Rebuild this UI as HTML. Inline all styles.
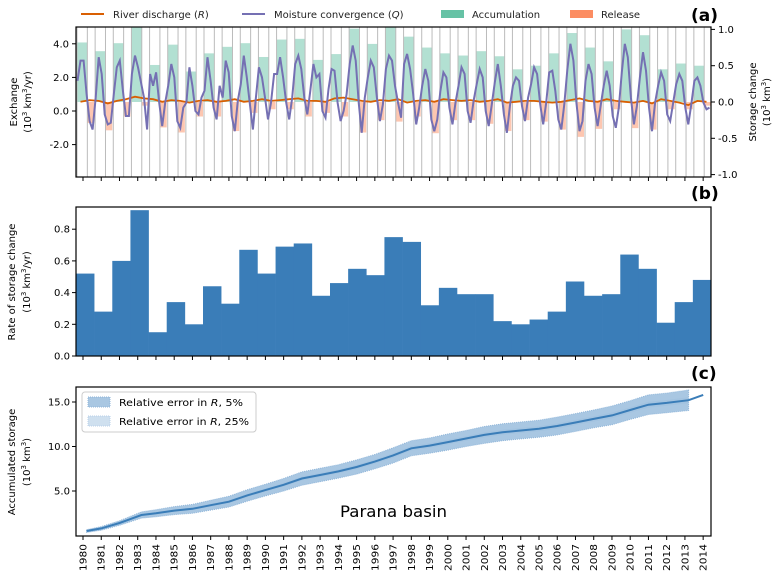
<!DOCTYPE html>
<html><head><meta charset="utf-8"><style>
html,body{margin:0;padding:0;background:#fff;}
svg{display:block;font-family:"DejaVu Sans","Liberation Sans",sans-serif;}
</style></head><body>
<svg id="chart" width="781" height="582" viewBox="0 0 781 582" xmlns="http://www.w3.org/2000/svg">
<g font-size="10" fill="#222">
 <line x1="81" y1="14" x2="104" y2="14" stroke="#d95f02" stroke-width="2"/>
 <text x="113" y="18">River discharge (<tspan font-style="italic">R</tspan>)</text>
 <line x1="242" y1="14" x2="265" y2="14" stroke="#7570b3" stroke-width="2"/>
 <text x="274" y="18">Moisture convergence (<tspan font-style="italic">Q</tspan>)</text>
 <rect x="441" y="10" width="23" height="8" fill="#66c2a5"/>
 <text x="472" y="18">Accumulation</text>
 <rect x="570" y="10" width="23" height="8" fill="#fc8d62"/>
 <text x="601" y="18">Release</text>
</g>
<text x="691" y="21" font-size="17" font-weight="bold">(a)</text>
<text x="691" y="199" font-size="17" font-weight="bold">(b)</text>
<text x="691" y="379" font-size="17" font-weight="bold">(c)</text>
<g id="pa"></g><g id="pb"></g><g id="pc"></g>
</svg>
<script>
const years=[];for(let y=1980;y<=2014;y++)years.push(y);
const accumulation=[0.82,0.70,0.81,1.05,0.51,0.79,0.42,0.67,0.76,0.81,0.62,0.86,0.87,0.58,0.66,1.01,0.80,1.05,0.90,0.75,0.67,0.64,0.70,0.63,0.45,0.50,0.67,0.95,0.75,0.56,1.00,0.92,0.45,0.53,0.50];
const release=[-0.29,-0.39,-0.20,-0.05,-0.35,-0.42,-0.20,-0.20,-0.40,-0.15,-0.10,-0.10,-0.20,-0.15,-0.20,-0.42,-0.25,-0.27,-0.20,-0.43,-0.25,-0.25,-0.30,-0.40,-0.25,-0.27,-0.38,-0.48,-0.37,-0.10,-0.36,-0.38,-0.10,-0.10,-0.05];
const moisture=[[1.8,3.0,3.0,1.0,-0.6,-1.1],[0.8,3.2,2.2,-0.2,-0.8,-0.7],[1.0,2.6,3.0,1.2,-0.3,-0.3],[2.2,3.3,2.6,1.7,0.8,-1.1],[2.2,1.5,2.3,0.5,-0.9,0.5],[1.5,2.8,2.0,-0.6,-1.0,0.2],[0.5,2.6,1.5,0.0,-0.2,0.8],[1.2,3.2,1.8,0.2,-0.5,1.5],[0.8,3.0,2.3,-0.3,-1.2,0.6],[1.6,3.3,2.0,0.4,-1.1,0.8],[2.6,2.0,0.8,-0.5,0.5,2.2],[2.2,3.2,2.0,0.5,-0.5,0.8],[2.8,3.3,2.5,0.8,-0.2,1.2],[2.8,2.0,2.2,0.0,-0.4,1.3],[2.5,2.4,0.5,-0.6,0.0,1.0],[2.8,3.9,3.0,0.5,-1.3,0.8],[2.0,3.0,2.6,0.8,-0.6,0.4],[2.5,3.3,3.0,1.5,0.5,-0.4],[2.8,3.4,2.5,1.0,-0.8,0.2],[1.5,2.5,1.8,-0.5,-1.2,-0.5],[1.2,2.3,2.0,0.2,-0.8,0.5],[1.5,2.6,2.2,0.0,-0.7,0.6],[1.6,2.5,2.0,0.0,-0.9,0.4],[1.7,2.8,1.5,-0.2,-1.3,0.3],[1.5,2.0,1.8,0.3,-0.6,0.8],[1.6,2.6,2.2,0.4,-0.8,0.5],[2.3,2.4,1.2,-0.5,-1.1,0.4],[2.5,4.0,3.0,0.5,-1.2,-0.6],[1.8,2.8,2.2,0.2,-0.9,0.3],[1.5,2.4,1.5,-0.3,-1.0,0.2],[2.3,4.0,3.2,0.8,-0.8,0.3],[2.0,3.5,2.4,0.2,-1.2,0.5],[1.5,2.3,1.8,-0.2,-0.6,0.5],[1.6,2.2,1.8,0.2,-0.8,0.4],[1.8,2.0,1.5,0.5,0.1,0.2]];
const discharge=[0.55,0.65,0.6,0.45,0.6,0.7,0.85,0.75,0.7,0.55,0.65,0.6,0.5,0.6,0.65,0.55,0.6,0.7,0.55,0.6,0.7,0.6,0.65,0.7,0.75,0.6,0.6,0.55,0.75,0.8,0.7,0.6,0.55,0.65,0.6,0.7,0.5,0.6,0.65,0.55,0.7,0.65,0.6,0.65,0.55,0.6,0.7,0.5,0.55,0.6,0.6,0.55,0.5,0.55,0.65,0.75,0.6,0.55,0.7,0.6,0.55,0.5,0.6,0.45,0.7,0.6,0.5,0.35,0.6,0.55];
const rate=[0.52,0.28,0.60,0.92,0.15,0.34,0.20,0.44,0.33,0.67,0.52,0.69,0.71,0.38,0.46,0.55,0.51,0.75,0.72,0.32,0.43,0.39,0.39,0.22,0.20,0.23,0.28,0.47,0.38,0.39,0.64,0.55,0.21,0.34,0.48];
const storageYears=[1980.2,1981,1982,1983.2,1984,1985,1986,1987,1988,1989,1990,1991,1992,1993,1994,1995,1996,1997,1998,1999,2000,2001,2002,2003,2004,2005,2006,2007,2008,2009,2010,2011,2012,2013.2,2014];
const storage=[0.5,0.8,1.4,2.3,2.5,2.8,3.0,3.4,3.8,4.5,5.1,5.7,6.4,6.8,7.2,7.7,8.3,9.0,9.8,10.1,10.5,10.9,11.3,11.6,11.8,12.0,12.3,12.7,13.1,13.5,14.1,14.7,14.9,15.2,15.8];
const err25=[0.15,0.2,0.25,0.35,0.4,0.45,0.5,0.55,0.6,0.65,0.65,0.7,0.75,0.75,0.75,0.8,0.8,0.85,0.85,0.85,0.9,0.9,0.95,0.95,0.95,0.95,1.0,1.0,1.0,1.05,1.05,1.1,1.1,1.15,0];
const ticksA=[4.0,2.0,0.0,-2.0];const ticksAR=[1.0,0.5,0.0,-0.5,-1.0];
const ticksB=[0.0,0.2,0.4,0.6,0.8];const ticksC=[5.0,10.0,15.0];
const NS='http://www.w3.org/2000/svg';
function mk(p,t,a){const e=document.createElementNS(NS,t);for(const k in a)e.setAttribute(k,a[k]);p.appendChild(e);return e;}
const X0=76,X1=711,YW=(X1-X0)/35;
const ga=document.getElementById('pa'),gb=document.getElementById('pb'),gc=document.getElementById('pc');
const yaL=v=>111-v*16.8, yaR=v=>102-v*72.6;
const ys=i=>X0+i*YW;
mk(ga,'rect',{x:X0,y:27,width:X1-X0,height:150,fill:'#fff'});
const clip=mk(ga,'clipPath',{id:'ca'});mk(clip,'rect',{x:X0,y:27,width:X1-X0,height:150});
const ca=mk(ga,'g',{'clip-path':'url(#ca)'});
accumulation.forEach((v,i)=>{const x=ys(i)+1,w=YW*0.57;
 const r=mk(ca,'rect',{x:x,y:yaR(v),width:w,height:yaR(0)-yaR(v),fill:'#66c2a5','fill-opacity':0.5});
 
 
 mk(ca,'line',{x1:x,x2:x,y1:27,y2:177,stroke:'#bbb','stroke-width':1});
});
release.forEach((v,i)=>{const x=ys(i)+1+YW*0.57,w=YW*0.43-1;
 const r=mk(ca,'rect',{x:x,y:yaR(0),width:w,height:yaR(v)-yaR(0),fill:'#fc8d62','fill-opacity':0.5});
 
 
 mk(ca,'line',{x1:x,x2:x,y1:27,y2:177,stroke:'#bbb','stroke-width':1});
});
let dp=discharge.map((v,i)=>(X0+(i+0.5)*(X1-X0)/discharge.length).toFixed(1)+','+yaL(v).toFixed(1)).join(' ');
const dl=mk(ca,'polyline',{points:dp,fill:'none',stroke:'#d95f02','stroke-width':1.8});


let mp=[];moisture.forEach((row,i)=>row.forEach((v,k)=>mp.push((ys(i)+(k+0.5)*YW/6).toFixed(1)+','+yaL(v).toFixed(1))));
const ml=mk(ca,'polyline',{points:mp.join(' '),fill:'none',stroke:'#7570b3','stroke-width':2});


mk(ga,'rect',{x:X0,y:27,width:X1-X0,height:150,fill:'none',stroke:'#000','stroke-width':1.2});
ticksA.forEach(t=>{mk(ga,'line',{x1:X0-4,x2:X0,y1:yaL(t),y2:yaL(t),stroke:'#000'});const e=mk(ga,'text',{x:X0-7,y:yaL(t)+3.5,'font-size':10,'text-anchor':'end'});e.textContent=t.toFixed(1);});
ticksAR.forEach(t=>{mk(ga,'line',{x1:X1,x2:X1+4,y1:yaR(t),y2:yaR(t),stroke:'#000'});const e=mk(ga,'text',{x:X1+7,y:yaR(t)+3.5,'font-size':10});e.textContent=t.toFixed(1);});
const xc=y=>83+(y-1980)*18.24;
years.forEach(y=>{mk(ga,'line',{x1:xc(y),x2:xc(y),y1:177,y2:181,stroke:'#000'});mk(gb,'line',{x1:xc(y),x2:xc(y),y1:356,y2:360,stroke:'#000'});mk(gc,'line',{x1:xc(y),x2:xc(y),y1:536,y2:540,stroke:'#000'});});
mk(ga,'text',{x:0,y:0,'font-size':10,'text-anchor':'middle',transform:'translate(17,102) rotate(-90)'}).textContent='Exchange';
const ta=mk(ga,'text',{x:0,y:0,'font-size':10,'text-anchor':'middle',transform:'translate(31,102) rotate(-90)'});ta.innerHTML='(10<tspan dy="-4" font-size="7">3</tspan><tspan dy="4"> km</tspan><tspan dy="-4" font-size="7">3</tspan><tspan dy="4">/yr)</tspan>';
mk(ga,'text',{x:0,y:0,'font-size':10,'text-anchor':'middle',transform:'translate(756,102) rotate(-90)'}).textContent='Storage change';
const tr=mk(ga,'text',{x:0,y:0,'font-size':10,'text-anchor':'middle',transform:'translate(770,102) rotate(-90)'});tr.innerHTML='(10<tspan dy="-4" font-size="7">3</tspan><tspan dy="4"> km</tspan><tspan dy="-4" font-size="7">3</tspan><tspan dy="4">)</tspan>';
const yb=v=>356-v*158.5;
rate.forEach((v,i)=>{const r=mk(gb,'rect',{x:ys(i),y:yb(v),width:YW+0.3,height:356-yb(v),fill:'#3a7db8'});
 
 });
mk(gb,'rect',{x:X0,y:207,width:X1-X0,height:149,fill:'none',stroke:'#000','stroke-width':1.2});
ticksB.forEach(t=>{mk(gb,'line',{x1:X0-4,x2:X0,y1:yb(t),y2:yb(t),stroke:'#000'});const e=mk(gb,'text',{x:X0-6,y:yb(t)+3.5,'font-size':10,'text-anchor':'end',textLength:16,lengthAdjust:'spacingAndGlyphs'});e.textContent=t.toFixed(1);});
mk(gb,'text',{x:0,y:0,'font-size':10,'text-anchor':'middle',transform:'translate(15,282) rotate(-90)'}).textContent='Rate of storage change';
const tb=mk(gb,'text',{x:0,y:0,'font-size':10,'text-anchor':'middle',transform:'translate(30,282) rotate(-90)'});tb.innerHTML='(10<tspan dy="-4" font-size="7">3</tspan><tspan dy="4"> km</tspan><tspan dy="-4" font-size="7">3</tspan><tspan dy="4">/yr)</tspan>';
const yc=v=>535.5-v*8.9;
const n=storage.length-1;
let up=[],lo=[],up5=[],lo5=[];
for(let i=0;i<n;i++){const x=xc(storageYears[i]).toFixed(1);up.push(x+','+yc(storage[i]+err25[i]).toFixed(1));lo.unshift(x+','+yc(storage[i]-err25[i]).toFixed(1));up5.push(x+','+yc(storage[i]+err25[i]*0.3).toFixed(1));lo5.unshift(x+','+yc(storage[i]-err25[i]*0.3).toFixed(1));}
const b25=mk(gc,'polygon',{points:up.concat(lo).join(' '),fill:'#a9c7e2',stroke:'#8fb5d9','stroke-dasharray':'1,1'});


const b5=mk(gc,'polygon',{points:up5.concat(lo5).join(' '),fill:'#a3c3e0'});


const sl=mk(gc,'polyline',{points:storage.map((v,i)=>xc(storageYears[i]).toFixed(1)+','+yc(v).toFixed(1)).join(' '),fill:'none',stroke:'#3a7db8','stroke-width':2});


mk(gc,'rect',{x:X0,y:387,width:X1-X0,height:149,fill:'none',stroke:'#000','stroke-width':1.2});
ticksC.forEach(t=>{mk(gc,'line',{x1:X0-4,x2:X0,y1:yc(t),y2:yc(t),stroke:'#000'});const e=mk(gc,'text',{x:X0-6,y:yc(t)+3.5,'font-size':10,'text-anchor':'end',textLength:t<10?16:22,lengthAdjust:'spacingAndGlyphs'});e.textContent=t.toFixed(1);});
years.forEach(y=>{const e=mk(gc,'text',{x:0,y:0,'font-size':10,'text-anchor':'end',transform:'translate('+(xc(y)+3.5)+',544) rotate(-90)',textLength:27,lengthAdjust:'spacingAndGlyphs'});e.textContent=y;});
mk(gc,'text',{x:0,y:0,'font-size':10,'text-anchor':'middle',transform:'translate(15,462) rotate(-90)'}).textContent='Accumulated storage';
const tc=mk(gc,'text',{x:0,y:0,'font-size':10,'text-anchor':'middle',transform:'translate(30,462) rotate(-90)'});tc.innerHTML='(10<tspan dy="-4" font-size="7">3</tspan><tspan dy="4"> km</tspan><tspan dy="-4" font-size="7">3</tspan><tspan dy="4">)</tspan>';
const lg=mk(gc,'g',{});


mk(lg,'rect',{x:82,y:392,width:174,height:40,rx:3,fill:'#fff',stroke:'#ccc'});
mk(lg,'rect',{x:88,y:397,width:22,height:10,fill:'#a9c7e2',stroke:'#8fb5d9','stroke-dasharray':'1,1'});
mk(lg,'rect',{x:88,y:416,width:22,height:10,fill:'#cfe0ef',stroke:'#b9d1e8','stroke-dasharray':'1,1'});
const l1=mk(lg,'text',{x:119,y:406,'font-size':10,textLength:124,lengthAdjust:'spacingAndGlyphs'});l1.innerHTML='Relative error in <tspan font-style="italic">R</tspan>, 5%';
const l2=mk(lg,'text',{x:119,y:425,'font-size':10,textLength:130,lengthAdjust:'spacingAndGlyphs'});l2.innerHTML='Relative error in <tspan font-style="italic">R</tspan>, 25%';
const pt=mk(gc,'text',{x:340,y:517,'font-size':16,textLength:107,lengthAdjust:'spacingAndGlyphs'});pt.textContent='Parana basin';


</script>
</body></html>
